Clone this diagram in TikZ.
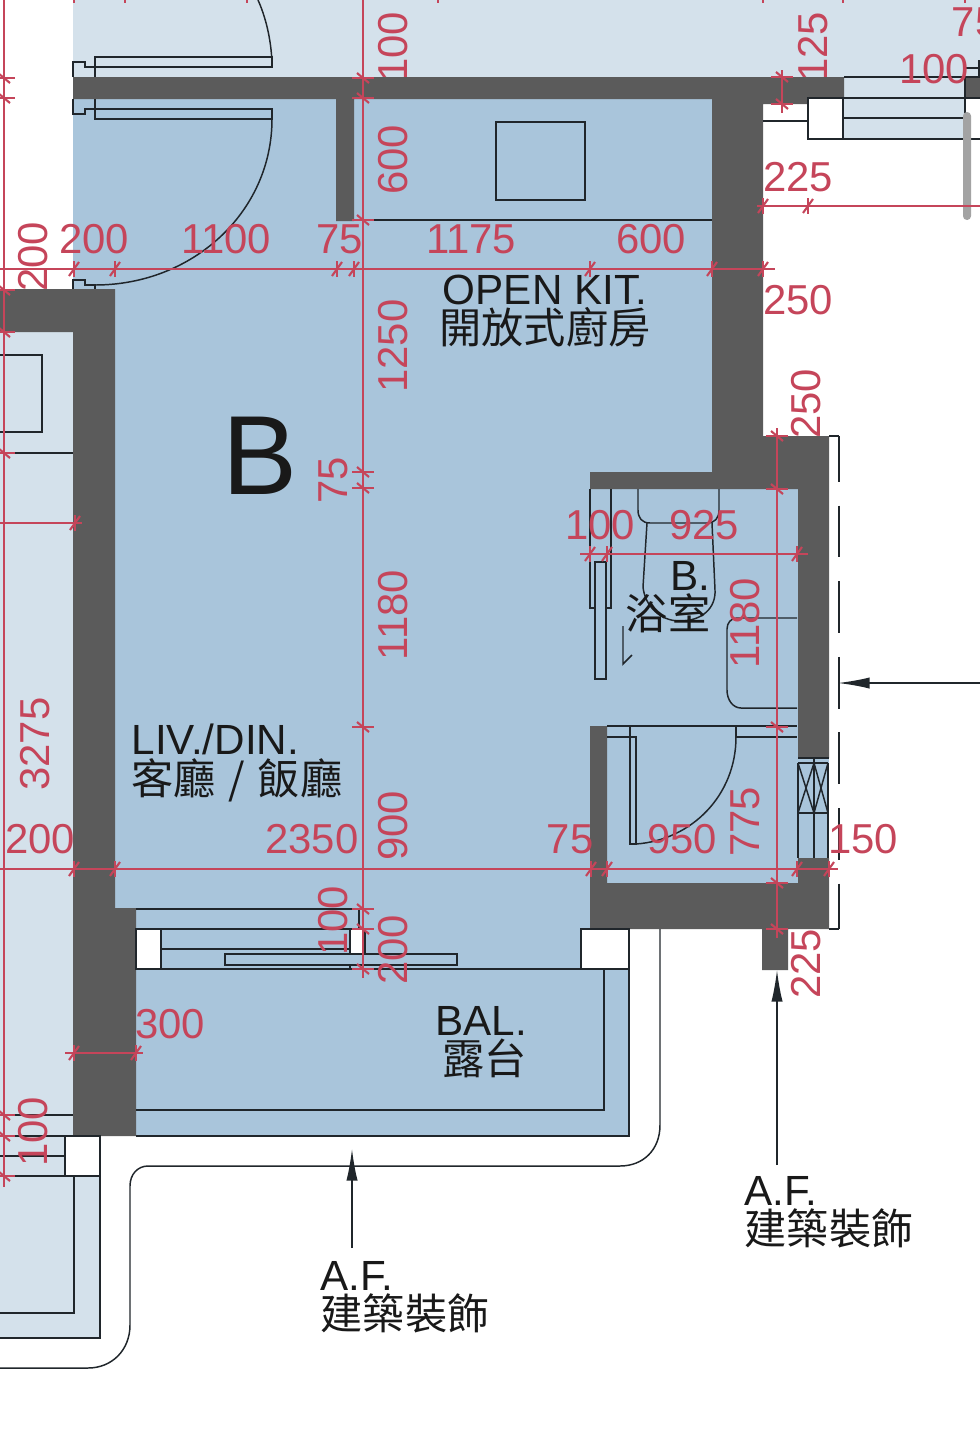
\documentclass[tikz,border=0pt]{standalone}
\usepackage{fontspec}
\setmainfont{Liberation Sans}
\newfontfamily\cjk{Noto Sans CJK TC}
\usetikzlibrary{arrows.meta}
\definecolor{roomblue}{HTML}{A9C5DB}
\definecolor{paleblue}{HTML}{D4E1EB}
\definecolor{wallgrey}{HTML}{5B5B5B}
\definecolor{dimred}{HTML}{C5455A}
\definecolor{inkline}{HTML}{20262B}
\definecolor{barhandle}{HTML}{A3A3A3}
\tikzset{
  wall/.style={fill=wallgrey,draw=none},
  plan/.style={draw=inkline,line width=0.42pt},
  whitebox/.style={plan,fill=white},
  dimline/.style={draw=dimred,line width=0.45pt},
  dimtick/.style={draw=dimred,line width=0.6pt},
  dimtext/.style={text=dimred,inner sep=0pt,font=\fontsize{11.9}{14}\selectfont},
  roomtext/.style={text=black!90,inner sep=0pt,font=\fontsize{12}{11.2}\selectfont},
  leader/.style={draw=inkline,line width=0.42pt,-{Latex[length=9pt,width=3.2pt]}},
}
% tick on a horizontal and on a vertical dimension line
\newcommand{\xtick}[2]{\draw[dimtick] (#1,#2-8) -- (#1,#2+8); \draw[dimtick] (#1-5,#2+7) -- (#1+5,#2-7);}
\newcommand{\ytick}[2]{\draw[dimtick] (#1-11,#2) -- (#1+11,#2); \draw[dimtick] (#1-6,#2-5) -- (#1+6,#2+5);}
\begin{document}
\begin{tikzpicture}[x=0.01cm,y=-0.01cm]
\clip (0,0) rectangle (980,1436);

% Neighbouring flats and room fills
\fill[paleblue] (73,0) rectangle (980,77);
\fill[paleblue] (844,77) rectangle (980,139);
\fill[paleblue] (0,332) rectangle (73,1176);
\fill[paleblue] (0,1176) rectangle (100,1338);
\fill[roomblue] (73,99) rectangle (590,969);
\fill[roomblue] (590,99) rectangle (712,472);
\fill[roomblue] (590,472) rectangle (798,883);
\fill[roomblue] (136,969) rectangle (629,1136);
\fill[roomblue] (798,758) rectangle (829,858);

% Labels that run behind the walls
\node[dimtext,rotate=90] (dimTopA) at (393,47) {100};
\node[dimtext,rotate=90] (dimTopB) at (813,47) {125};
\node[dimtext,rotate=90] (dimLeftA) at (33,257) {200};
\node[dimtext,rotate=90] (dimRightA) at (806,404) {250};
\node[dimtext,rotate=90] (dimRightB) at (806,964) {225};

% Walls
\fill[wall] (73,77) -- (844,77) -- (844,98) -- (808,98) -- (808,104) -- (763,104) -- (763,436)
  -- (829,436) -- (829,758) -- (798,758) -- (798,489) -- (590,489) -- (590,472) -- (712,472)
  -- (712,99) -- (354,99) -- (354,221) -- (336,221) -- (336,99) -- (73,99) -- cycle;
\fill[wall] (798,858) -- (829,858) -- (829,929) -- (788,929) -- (788,970) -- (762,970) -- (762,929)
  -- (590,929) -- (590,726) -- (607,726) -- (607,883) -- (798,883) -- cycle;
\fill[wall] (0,289) -- (115,289) -- (115,908) -- (136,908) -- (136,1136) -- (73,1136) -- (73,332)
  -- (0,332) -- cycle;
\fill[wall] (965,78) rectangle (980,98);

% Doors at the entrance
\draw[plan] (73,77) -- (73,62) -- (85,62) -- (85,67) -- (272,67) -- (272,57) -- (95,57) -- (95,77);
\draw[plan] (272,67) .. controls (272,45) and (267,20) .. (258,0);
\draw[plan] (73,99) -- (73,114) -- (85,114) -- (85,109) -- (272,109) -- (272,119) -- (95,119) -- (95,99);
\draw[plan] (272,119) .. controls (272,212) and (193,285) .. (95,285);
\draw[plan] (73,289) -- (73,280) -- (85,280) -- (85,285) -- (95,285) -- (95,289);

% Kitchen
\draw[plan] (496,122) rectangle (585,200);
\draw[plan] (354,220) -- (712,220);

% Top right windows
\draw[plan] (763,121) -- (808,121);
\draw[plan] (844,77) -- (980,77);
\draw[plan] (844,98) -- (965,98);
\draw[plan] (844,118) -- (965,118);
\draw[plan] (808,139) -- (980,139);
\draw[plan] (965,68) -- (980,68);
\draw[plan] (979,60) -- (979,78);
\draw[whitebox] (808,98) rectangle (843,139);
\fill[white] (965,98) rectangle (980,139);
\draw[plan] (965,77) -- (965,139);
\draw[plan] (965,98) -- (980,98);
\draw[plan] (965,139) -- (980,139);
\fill[barhandle,rounded corners=1.1pt] (963,112) rectangle (971,220);

% Unit to the left
\draw[plan] (0,355) -- (42,355) -- (42,432) -- (0,432);
\draw[plan] (15,453) -- (73,453);
\draw[plan] (0,1115) -- (73,1115);
\draw[plan] (0,1136) -- (73,1136);
\draw[plan] (0,1156) -- (65,1156);
\draw[plan] (0,1176) -- (65,1176);
\draw[whitebox] (65,1136) rectangle (100,1176);
\draw[plan] (100,1176) -- (100,1338) -- (0,1338);
\draw[plan] (74,1176) -- (74,1313) -- (0,1313);

% Bathroom fittings
\draw[plan] (590,489) -- (590,608) -- (595,608);
\draw[plan] (611,489) -- (611,608) -- (606,608);
\draw[plan] (595,562) rectangle (606,679);
\draw[plan] (623,626) -- (623,664) -- (632,655);
\draw[plan] (638,489) -- (638,510) .. controls (638,518) and (642,523) .. (650,523) -- (707,523)
  .. controls (715,523) and (719,518) .. (719,510) -- (719,489);
\draw[plan] (647,523) -- (643,587) .. controls (645,606) and (660,621) .. (680,621)
  .. controls (702,621) and (716,608) .. (715,590) -- (712,523);
\draw[plan] (797,618) -- (737,618) .. controls (731,618) and (727,623) .. (727,629) -- (727,690)
  .. controls (727,700) and (733,708) .. (741,708) -- (797,708);
\draw[plan] (607,726) -- (797,726);
\draw[plan] (607,737) -- (636,737) -- (636,844) -- (630,844) -- (630,726);
\draw[plan] (736,726) -- (736,737) -- (797,737);
\draw[plan] (736,737) .. controls (736,795) and (692,840) .. (636,844);

% Vent
\draw[plan] (798,758) -- (829,758);
\draw[plan] (798,763) -- (798,858);
\draw[plan] (814,758) -- (814,858);
\draw[plan] (828,763) -- (828,858);
\draw[plan] (798,763) -- (828,763);
\draw[plan] (798,813) -- (828,813);
\draw[plan] (798,763) -- (814,813);
\draw[plan] (814,763) -- (798,813);
\draw[plan] (814,763) -- (828,813);
\draw[plan] (828,763) -- (814,813);

% Dashed outline on the right
\draw[plan] (829,436) -- (839,436);
\draw[plan] (829,929) -- (839,929);
\draw[plan,dash pattern=on 14.7pt off 6.8pt,dash phase=1.7pt] (839,436) -- (839,929);

% Living room window and balcony
\draw[plan] (136,909) -- (359,909) -- (359,929);
\draw[plan] (161,929) -- (350,929);
\draw[plan] (161,949) -- (350,949);
\draw[whitebox] (136,929) rectangle (161,969);
\draw[whitebox] (350,929) rectangle (365,954);
\draw[plan] (225,954) rectangle (457,965);
\draw[plan] (350,965) -- (350,969);
\draw[plan] (136,969) -- (581,969);
\draw[whitebox] (581,929) rectangle (629,969);
\draw[plan] (604,969) -- (604,1110) -- (136,1110);
\draw[plan] (629,969) -- (629,1136) -- (136,1136);

% Outer line round the balcony
\draw[plan] (660,929) -- (660,1125) .. controls (660,1150) and (643,1166) .. (620,1166)
  -- (148,1166) .. controls (138,1166) and (130,1174) .. (130,1186) -- (130,1325)
  .. controls (130,1350) and (112,1368) .. (88,1368) -- (0,1368);

% Dimension lines
\draw[dimline] (0,269) -- (775,269);
\draw[dimline] (0,869) -- (838,869);
\draw[dimline] (580,554) -- (808,554);
\draw[dimline] (65,1053) -- (143,1053);
\draw[dimline] (757,206) -- (980,206);
\draw[dimline] (0,523) -- (82,523);
\draw[dimline] (363,0) -- (363,978);
\draw[dimline] (777,428) -- (777,938);
\draw[dimline] (782,70) -- (782,113);
\draw[dimline] (4,0) -- (4,1187);
\foreach \tx in {74,115,337,354,590,712,763} {\xtick{\tx}{269}}
\foreach \tx in {74,115,591,607,797,829} {\xtick{\tx}{869}}
\foreach \tx in {590,607,797} {\xtick{\tx}{554}}
\foreach \tx in {74,136} {\xtick{\tx}{1053}}
\foreach \tx in {763,808} {\xtick{\tx}{206}}
\xtick{75}{523}
\foreach \tx in {74,125,247,438,763,843,965} \draw[dimtick] (\tx,0) -- (\tx,3);
\foreach \ty in {78,98,220,472,488,727,909,929,969} {\ytick{363}{\ty}}
\foreach \ty in {436,489,727,883,929} {\ytick{777}{\ty}}
\foreach \ty in {77,104} {\ytick{782}{\ty}}
\foreach \ty in {78,98,290,332,453,1115,1136,1176} {\ytick{4}{\ty}}

% Dimension labels
\node[dimtext] (dimA) at (94,239) {200};
\node[dimtext] (dimB) at (226,239) {1100};
\node[dimtext] (dimC) at (340,239) {75};
\node[dimtext] (dimD) at (471,239) {1175};
\node[dimtext] (dimE) at (651,239) {600};
\node[dimtext] (dimF) at (798,177) {225};
\node[dimtext] (dimG) at (798,300) {250};
\node[dimtext] (dimH) at (934,69) {100};
\node[dimtext] (dimI) at (975,22) {75};
\node[dimtext] (dimJ) at (600,525) {100};
\node[dimtext] (dimK) at (704,525) {925};
\node[dimtext] (dimL) at (40,839) {200};
\node[dimtext] (dimM) at (312,839) {2350};
\node[dimtext] (dimN) at (570,839) {75};
\node[dimtext] (dimO) at (682,839) {950};
\node[dimtext] (dimP) at (863,839) {150};
\node[dimtext] (dimQ) at (170,1024) {300};
\node[dimtext,rotate=90] (dimR) at (393,160) {600};
\node[dimtext,rotate=90] (dimS) at (393,346) {1250};
\node[dimtext,rotate=90] (dimT) at (333,480) {75};
\node[dimtext,rotate=90] (dimU) at (393,615) {1180};
\node[dimtext,rotate=90] (dimV) at (393,826) {900};
\node[dimtext,rotate=90] (dimW) at (333,921) {100};
\node[dimtext,rotate=90] (dimX) at (393,950) {200};
\node[dimtext,rotate=90] (dimY) at (745,623) {1180};
\node[dimtext,rotate=90] (dimZ) at (745,822) {775};
\node[dimtext,rotate=90] (dimLeftB) at (35,744) {3275};
\node[dimtext,rotate=90] (dimLeftC) at (33,1132) {100};

% Room labels
\node[roomtext,font=\fontsize{32}{34}\selectfont] (flatB) at (260,456) {B};
\node[roomtext,align=center] (kitLabel) at (545,311) {OPEN KIT.\\{\cjk 開放式廚房}};
\node[roomtext,align=left] (livLabel) at (237,763) {LIV./DIN.\\{\cjk 客廳\hspace{3.6pt}/\hspace{3.6pt}飯廳}};
\node[roomtext,align=right] (bathLabel) at (668,597) {B.\\{\cjk 浴室}};
\node[roomtext,align=right] (balLabel) at (481,1042) {BAL.\\{\cjk 露台}};
\node[roomtext,align=left] (finA) at (405,1297) {A.F.\\{\cjk 建築裝飾}};
\node[roomtext,align=left] (finB) at (829,1212) {A.F.\\{\cjk 建築裝飾}};

% Leaders
\coordinate (leadAfrom) at (352,1248);
\coordinate (leadAto) at (352,1149);
\coordinate (leadBfrom) at (777,1165);
\coordinate (leadBto) at (777,970);
\coordinate (leadCfrom) at (980,683);
\coordinate (leadCto) at (838,683);
\draw[leader] (leadAfrom) -- (leadAto);
\draw[leader] (leadBfrom) -- (leadBto);
\draw[leader] (leadCfrom) -- (leadCto);
\end{tikzpicture}
\end{document}
